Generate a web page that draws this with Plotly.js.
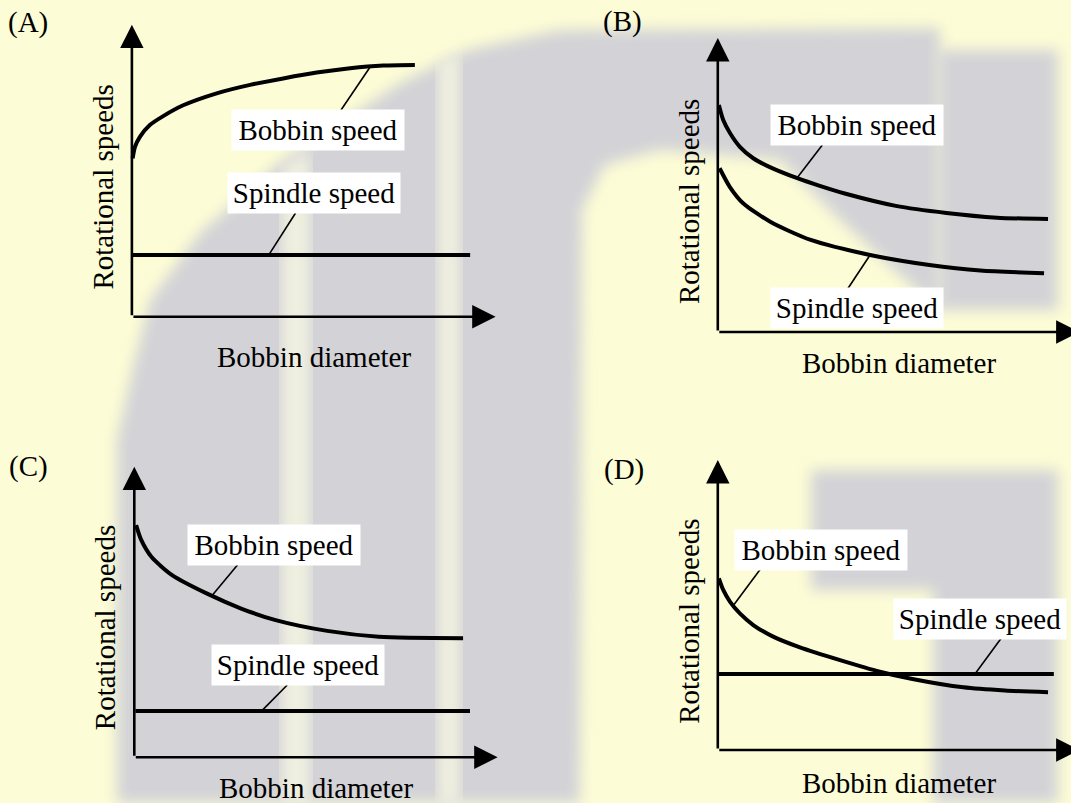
<!DOCTYPE html>
<html><head><meta charset="utf-8">
<script src="https://cdn.plot.ly/plotly-3.0.1.min.js"></script>
<style>html,body{margin:0;padding:0;background:#fcfcd6;overflow:hidden;} #chart{width:1071px;height:803px;}</style>
</head><body><div id="chart"></div>
<script>
// ---------- data (arbitrary units) ----------
const panelNames = ["(A)", "(B)", "(C)", "(D)"];
const xTitle = "Bobbin diameter";
const yTitle = "Rotational speeds";
const bobbinLabel = "Bobbin speed";
const spindleLabel = "Spindle speed";

const bobbinDiamA = [0.02, 0.085, 0.22, 0.50, 0.86, 1.41, 2.33, 3.25, 4.16, 5.08, 6.00, 6.91, 7.78];
const bobbinSpeedA = [5.42, 5.82, 6.16, 6.57, 6.87, 7.24, 7.65, 7.94, 8.16, 8.36, 8.51, 8.60, 8.62];
const spindleDiamA = [0.03, 9.30];
const spindleSpeedA = [2.11, 2.11];

const bobbinDiamB = [0.03, 0.15, 0.34, 0.61, 0.98, 1.44, 2.18, 2.82, 3.51, 4.92, 6.32, 7.72, 9.13];
const bobbinSpeedB = [7.72, 7.21, 6.76, 6.30, 5.91, 5.61, 5.24, 4.97, 4.71, 4.29, 4.05, 3.89, 3.84];
const spindleDiamB = [0.05, 0.33, 0.70, 1.45, 2.57, 4.21, 5.85, 7.26, 9.02];
const spindleSpeedB = [5.57, 4.94, 4.38, 3.75, 3.13, 2.62, 2.28, 2.09, 2.00];

const bobbinDiamC = [0.05, 0.19, 0.47, 1.04, 1.99, 2.94, 3.89, 5.31, 6.73, 9.05];
const bobbinSpeedC = [7.99, 7.48, 6.90, 6.27, 5.64, 5.12, 4.72, 4.35, 4.15, 4.10];
const spindleDiamC = [0.03, 9.24];
const spindleSpeedC = [1.59, 1.59];

const bobbinDiamD = [0.03, 0.15, 0.34, 0.61, 0.98, 1.53, 2.27, 3.38, 4.48, 5.38, 6.79, 7.94, 9.13];
const bobbinSpeedD = [5.92, 5.52, 5.11, 4.71, 4.31, 3.91, 3.54, 3.10, 2.70, 2.45, 2.16, 2.05, 1.99];
const spindleDiamD = [0.03, 9.29];
const spindleSpeedD = [2.62, 2.62];

// label text centres [x, y] and leader lines per panel
const bobbinLabelPos = [[5.12, 6.38], [3.86, 7.04], [3.84, 7.31], [2.84, 6.91]];
const spindleLabelPos = [[5.00, 4.24], [3.86, 0.80], [4.51, 3.18], [7.25, 4.52]];
const bobbinLeaderX = [[5.75, 6.55], [2.89, 2.19], [2.84, 2.13], [1.18, 0.45]];
const bobbinLeaderY = [[7.08, 8.55], [6.36, 5.24], [6.62, 5.55], [6.24, 5.02]];
const spindleLeaderX = [[4.50, 3.76], [3.57, 4.21], [4.21, 3.50], [7.84, 7.11]];
const spindleLeaderY = [[3.55, 2.11], [1.43, 2.62], [2.49, 1.59], [3.86, 2.62]];
const panelLetterPos = [[-2.85, 10.09], [-2.63, 10.56], [-2.91, 10.01], [-2.60, 9.66]];
const xTitleY = [-1.38, -1.05, -1.07, -1.14];
const xArrowTip = [10, 10, 10, 10];

// ---------- layout geometry (pixel origin and pixels per unit) ----------
const W = 1071, H = 803;
const geom = [
  {ox: 131.9, oy: 316.7, sx: 36.37, sy: 29.2},
  {ox: 717.8, oy: 332, sx: 36.17, sy: 29.4},
  {ox: 134.3, oy: 757.3, sx: 36.33, sy: 29.06},
  {ox: 717.8, oy: 750, sx: 36.17, sy: 29.0}
];
const XMIN = -3.2, XMAX = 10, YMIN = -1.5, YMAX = 10.8;

const bobbinX = [bobbinDiamA, bobbinDiamB, bobbinDiamC, bobbinDiamD];
const bobbinY = [bobbinSpeedA, bobbinSpeedB, bobbinSpeedC, bobbinSpeedD];
const spindleX = [spindleDiamA, spindleDiamB, spindleDiamC, spindleDiamD];
const spindleY = [spindleSpeedA, spindleSpeedB, spindleSpeedC, spindleSpeedD];

const FONT = "Liberation Serif, Times New Roman, serif";
const FS = 29;
const traces = [];
const annotations = [];
const layout = {
  width: W, height: H, autosize: false,
  margin: {l: 0, r: 0, t: 0, b: 0, pad: 0},
  paper_bgcolor: "rgba(0,0,0,0)", plot_bgcolor: "rgba(0,0,0,0)",
  showlegend: false, hovermode: false,
  font: {family: FONT, size: FS, color: "#000"}
};

geom.forEach((g, i) => {
  const s = i === 0 ? "" : String(i + 1);
  const xa = "x" + s, ya = "y" + s;
  const xmax = Math.min(XMAX, (W - g.ox) / g.sx);
  const ymin = Math.max(YMIN, (g.oy - H) / g.sy);
  const left = g.ox + XMIN * g.sx, right = g.ox + xmax * g.sx;
  const top = g.oy - YMAX * g.sy, bottom = g.oy - ymin * g.sy;
  layout["xaxis" + s] = {domain: [left / W, Math.min(1, right / W)], range: [XMIN, xmax], visible: false, fixedrange: true, anchor: ya};
  layout["yaxis" + s] = {domain: [Math.max(0, 1 - bottom / H), 1 - top / H], range: [ymin, YMAX], visible: false, fixedrange: true, anchor: xa};

  const lineStyle = {color: "#000", width: 4, shape: "spline", smoothing: 0.7};
  traces.push({x: bobbinX[i], y: bobbinY[i], xaxis: xa, yaxis: ya, mode: "lines", line: lineStyle, name: bobbinLabel});
  traces.push({x: spindleX[i], y: spindleY[i], xaxis: xa, yaxis: ya, mode: "lines", line: lineStyle, name: spindleLabel});
  traces.push({x: bobbinLeaderX[i], y: bobbinLeaderY[i], xaxis: xa, yaxis: ya, mode: "lines", line: {color: "#000", width: 1.6}});
  traces.push({x: spindleLeaderX[i], y: spindleLeaderY[i], xaxis: xa, yaxis: ya, mode: "lines", line: {color: "#000", width: 1.6}});

  // axes drawn as arrows
  const arrow = {xref: xa, yref: ya, axref: xa, ayref: ya, ax: 0, ay: 0, text: "", showarrow: true,
    arrowhead: 2, arrowsize: 1.8, arrowwidth: 2.6, arrowcolor: "#000", standoff: 0};
  annotations.push(Object.assign({}, arrow, {x: xArrowTip[i], y: 0}));
  annotations.push(Object.assign({}, arrow, {x: 0, y: 10}));

  const box = {xref: xa, yref: ya, showarrow: false, bgcolor: "#ffffff", width: 166, height: 34, borderpad: 3,
    font: {family: FONT, size: FS, color: "#000"}};
  annotations.push(Object.assign({}, box, {x: bobbinLabelPos[i][0], y: bobbinLabelPos[i][1], text: bobbinLabel}));
  annotations.push(Object.assign({}, box, {x: spindleLabelPos[i][0], y: spindleLabelPos[i][1], text: spindleLabel}));

  annotations.push({xref: xa, yref: ya, x: -0.8, y: 4.45, text: yTitle, textangle: -90, showarrow: false,
    font: {family: FONT, size: FS, color: "#000"}});
  annotations.push({xref: xa, yref: ya, x: 5.0, y: xTitleY[i], text: xTitle, showarrow: false,
    font: {family: FONT, size: FS, color: "#000"}});
  annotations.push({xref: xa, yref: ya, x: panelLetterPos[i][0], y: panelLetterPos[i][1], text: panelNames[i], showarrow: false,
    font: {family: FONT, size: FS, color: "#000"}});
});
layout.annotations = annotations;

// ---------- faint watermark in the background (decoration, paper coords from pixels) ----------
function pathFrom(pts) {
  return pts.map((p, k) => (k === 0 ? "M" : "L") + (p[0] / W).toFixed(4) + "," + (1 - p[1] / H).toFixed(4)).join(" ") + " Z";
}
const GRAY = "#d3d3d7", LIGHT = "#f0f0e0";
const gOuter = [[117, 803], [117, 440], [133, 367], [150, 300], [200, 233], [283, 160], [333, 128], [400, 83],
  [467, 50], [560, 30], [940, 28], [940, 310], [900, 275], [840, 220], [780, 160], [660, 150], [605, 165], [582, 210], [580, 803]];
const shp = (pts, color) => ({type: "path", xref: "paper", yref: "paper", layer: "below",
  path: pathFrom(pts), fillcolor: color, line: {width: 0}});
layout.shapes = [
  shp(gOuter, GRAY),
  shp([[938, 50], [1058, 50], [1058, 310], [938, 310]], GRAY),
  shp([[811, 470], [1058, 470], [1058, 803], [933, 803], [933, 590], [811, 590]], GRAY),
  shp([[282, 168], [310, 150], [310, 803], [282, 803]], LIGHT),
  shp([[438, 62], [460, 55], [460, 803], [438, 803]], LIGHT)
];

Plotly.newPlot("chart", traces, layout, {staticPlot: true, displayModeBar: false}).then(gd => {
  const svg = gd.querySelector("svg.main-svg");
  const NS = "http://www.w3.org/2000/svg";
  const defs = svg.querySelector("defs");
  const f = document.createElementNS(NS, "filter");
  f.setAttribute("id", "wmblur");
  f.setAttribute("x", "-10%"); f.setAttribute("y", "-10%"); f.setAttribute("width", "120%"); f.setAttribute("height", "120%");
  const b = document.createElementNS(NS, "feGaussianBlur");
  b.setAttribute("stdDeviation", "7");
  f.appendChild(b); defs.appendChild(f);
  gd.querySelectorAll(".layer-below .shapelayer path").forEach(p => p.setAttribute("filter", "url(#wmblur)"));
});
</script>
</body></html>
